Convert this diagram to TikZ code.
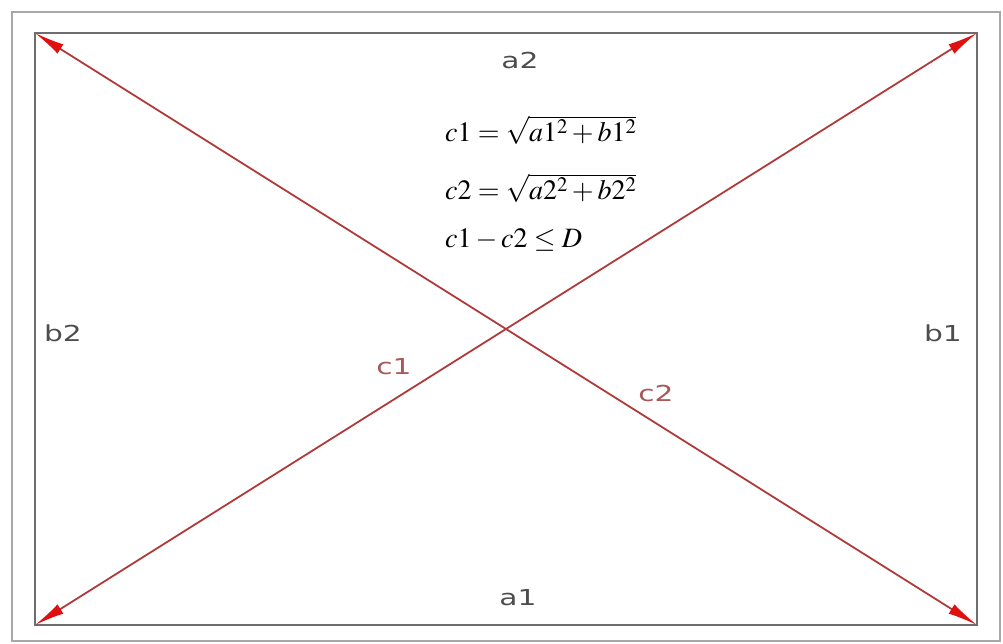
\documentclass[tikz,border=0pt]{standalone}
\usepackage{fontspec}
\setsansfont{DejaVu Sans}
\usepackage{mathptmx}
\usetikzlibrary{arrows.meta}

\definecolor{framegray}{HTML}{A8A8A8}
\definecolor{boxgray}{HTML}{6E6E6E}
\definecolor{lineRed}{HTML}{B03A3A}
\definecolor{tipRed}{HTML}{E01010}
\definecolor{labelRed}{HTML}{A85858}

\newcommand{\cadtext}[1]{\scalebox{1.35}[1]{#1}}

\tikzset{
  diag/.style={draw=lineRed, line width=1.8pt,
    {Latex[length=30pt,width=11pt,fill=tipRed,color=tipRed]}-{Latex[length=30pt,width=11pt,fill=tipRed,color=tipRed]}},
  side/.style={font=\sffamily\fontsize{22}{22}\selectfont, text=boxgray!70!black},
  clabel/.style={font=\sffamily\fontsize{22}{22}\selectfont, text=labelRed},
  formula/.style={anchor=west, font=\fontsize{28}{28}\selectfont, inner sep=0pt}
}

\begin{document}
\begin{tikzpicture}[x=1pt,y=-1pt]
  \useasboundingbox (0,0) rectangle (1003,644);

  % outer frame and box
  \draw[framegray, line width=2.5pt] (12,12) rectangle (1000,641);
  \coordinate (A) at (35,33);
  \coordinate (B) at (977,33);
  \coordinate (C) at (977,625);
  \coordinate (D) at (35,625);
  \draw[boxgray, line width=2.2pt] (A) rectangle (C);

  % diagonals
  \draw[diag] (D) -- (B);
  \draw[diag] (C) -- (A);

  % side labels
  \node[side] (a2) at (520,60) {\cadtext{a2}};
  \node[side] (a1) at (518,598) {\cadtext{a1}};
  \node[side] (b2) at (63,333) {\cadtext{b2}};
  \node[side] (b1) at (943,333) {\cadtext{b1}};
  \node[clabel] (c1) at (394,367) {\cadtext{c1}};
  \node[clabel] (c2) at (656,393) {\cadtext{c2}};

  % formulas
  \node[formula] (f1) at (445,130) {$c1=\sqrt{a1^2+b1^2}$};
  \node[formula] (f2) at (445,188) {$c2=\sqrt{a2^2+b2^2}$};
  \node[formula] (f3) at (445,240) {$c1-c2\leq D$};
\end{tikzpicture}
\end{document}
